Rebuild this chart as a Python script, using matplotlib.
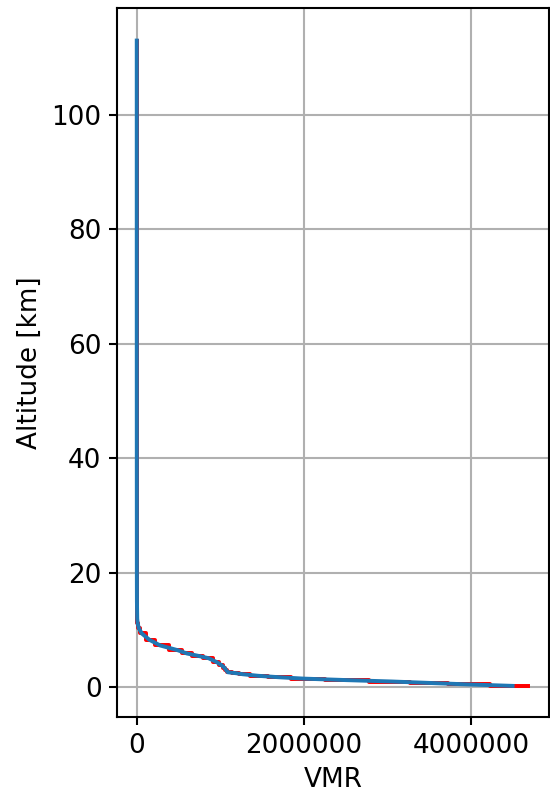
import matplotlib
matplotlib.use("Agg")
import matplotlib.pyplot as plt

# profile levels (bottom to top)
altitude = [0.23, 0.5, 0.75, 1.0, 1.25, 1.5, 1.75, 2.0, 2.27, 2.45, 2.62, 3.0,
            3.4, 3.85, 4.4, 5.07, 5.5, 5.9, 6.47, 7.3, 8.3, 9.4, 10.3, 11.2,
            12.0, 15.0, 20.0, 30.0, 40.0, 60.0, 80.0, 100.0, 113.0]
vmr = [4.5e6, 3.95e6, 3.5e6, 3.05e6, 2.5e6, 2.0e6, 1.7e6, 1.45e6, 1.27e6,
       1.19e6, 1.09e6, 1.07e6, 1.05e6, 1.015e6, 0.955e6, 0.86e6, 0.73e6,
       0.6e6, 0.49e6, 0.28e6, 0.15e6, 0.06e6, 0.025e6, 0.01e6, 5000, 2000,
       1200, 800, 500, 200, 80, 20, 5]

# surface value of the layer (step) profile drawn underneath
surface_vmr = 4.69e6

plt.rcParams["font.size"] = 12.6

fig = plt.figure(figsize=(550 / 150, 797 / 150), dpi=150)
ax = fig.add_axes([0.213, 0.1004, 0.785, 0.8896])

ax.plot([surface_vmr] + vmr, [altitude[0]] + altitude, color="red", lw=1.9,
        drawstyle="steps-mid")
ax.plot(vmr, altitude, color="tab:blue", lw=1.9)

ax.set_xlim(-0.235e6, 4.935e6)
ax.set_ylim(-5.2, 118.7)
ax.set_xticks([0, 2000000, 4000000])
ax.set_yticks([0, 20, 40, 60, 80, 100])
ax.ticklabel_format(axis="x", style="plain", useOffset=False)
ax.tick_params(length=4, width=1.0)
for s in ax.spines.values():
    s.set_linewidth(1.0)
ax.grid(True, lw=1.0)
ax.set_xlabel("VMR")
ax.set_ylabel("Altitude [km]")

fig.savefig("out.png", dpi=150)
